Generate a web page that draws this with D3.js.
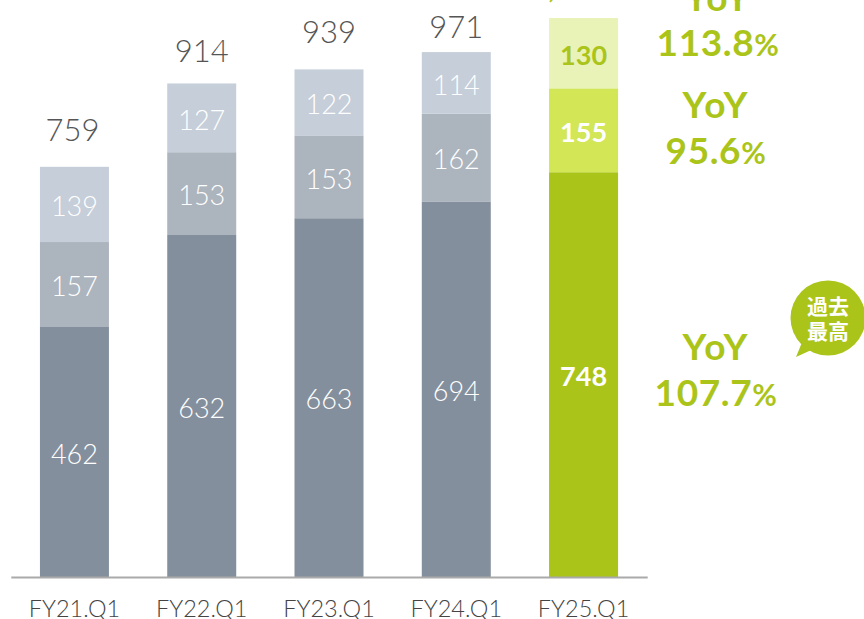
<!DOCTYPE html>
<html><head><meta charset="utf-8">
<script src="https://cdnjs.cloudflare.com/ajax/libs/d3/7.8.5/d3.min.js"></script>
<style>html,body{margin:0;background:#fff;overflow:hidden}svg{display:block}</style></head>
<body><svg id="c" width="864" height="619"></svg>
<script>
const categories = ["FY21.Q1","FY22.Q1","FY23.Q1","FY24.Q1","FY25.Q1"];
const bottomValues = [462,632,663,694,748];
const middleValues = [157,153,153,162,155];
const topValues = [139,127,122,114,130];
const totalLabels = ["759","914","939","971","1,033"];
const yoyValues = ["113.8","95.6","107.7"];
const calloutLines = ["過去","最高"];

const font = "Lato, sans-serif";
const cjk = "'Noto Sans CJK JP', sans-serif";
const svg = d3.select("#c");
const x = d3.scaleBand().domain(categories).range([10.8,647.2]).paddingInner(0.458).paddingOuter(0.229);
const y = d3.scaleLinear().domain([0,1033]).range([577,18]);

const grey = ["#848f9d","#acb4be","#c5ced9"];
const green = ["#abc41a","#d2e656","#e9f3b8"];
const layers = [bottomValues,middleValues,topValues];
const totalGap = [26,21,26,14,20];
const totalShift = [-2,0,0,0,-14];

categories.forEach((c,i)=>{
  let base = 0;
  const isLast = i === categories.length-1;
  layers.forEach((vals,k)=>{
    const v = vals[i];
    svg.append("rect").attr("x",x(c)).attr("width",x.bandwidth())
      .attr("y",y(base+v)).attr("height",y(base)-y(base+v))
      .attr("fill",(isLast?green:grey)[k]);
    svg.append("text").attr("x",x(c)+x.bandwidth()/2)
      .attr("y",y(base+v/2)+2)
      .attr("dy","0.36em").attr("text-anchor","middle")
      .attr("font-family",font)
      .attr("font-weight",isLast?700:300)
      .attr("font-size",27)
      .attr("fill",isLast&&k===2?green[0]:"#fff")
      .text(v);
    base += v;
  });
  svg.append("text").attr("x",x(c)+x.bandwidth()/2+totalShift[i]).attr("y",y(base)-totalGap[i])
    .attr("text-anchor","middle").attr("font-family",font)
    .attr("font-weight",isLast?700:300).attr("font-size",31)
    .attr("fill",isLast?green[0]:"#555").text(totalLabels[i]);
});

const axis = d3.axisBottom(x).tickSize(0).tickPadding(20);
const ag = svg.append("g").attr("transform","translate(0,577)").call(axis);
ag.select(".domain").attr("stroke","#aaa").attr("stroke-width",2);
ag.selectAll("text").attr("font-family",font).attr("font-size",23.5).attr("font-weight",300).attr("fill","#444").attr("dy",0).attr("y",39.5);

// YoY annotations, one per stacked layer (top to bottom)
const yoyBase = [56,164,406];
const yoyGap = [45,46,46];
const yoyX = [718,716,716];
yoyValues.forEach((v,i)=>{
  svg.append("text").attr("x",yoyX[i]).attr("y",yoyBase[i]-yoyGap[i]).attr("text-anchor","middle")
    .attr("font-family",font).attr("font-weight",700).attr("font-size",37).attr("letter-spacing",2).attr("fill",green[0]).text("YoY");
  const t = svg.append("text").attr("x",yoyX[i]).attr("y",yoyBase[i]).attr("text-anchor","middle")
    .attr("font-family",font).attr("font-weight",700).attr("font-size",37).attr("letter-spacing",0.6).attr("fill",green[0]);
  t.append("tspan").text(v);
  t.append("tspan").attr("font-size",30).text("%");
});

// callout bubble
const g = svg.append("g");
g.append("circle").attr("cx",828).attr("cy",318).attr("r",37.5).attr("fill",green[0]);
g.append("path").attr("d",d3.line()([[803,340],[796,357],[820,346]])).attr("fill",green[0]);
const ct = g.append("text").attr("text-anchor","middle")
   .attr("font-family",cjk).attr("font-weight",700).attr("font-size",21).attr("fill","#fff");
calloutLines.forEach((s,i)=>{
  ct.append("tspan").attr("x",828).attr("y",[314,339][i]).text(s);
});
</script></body></html>
